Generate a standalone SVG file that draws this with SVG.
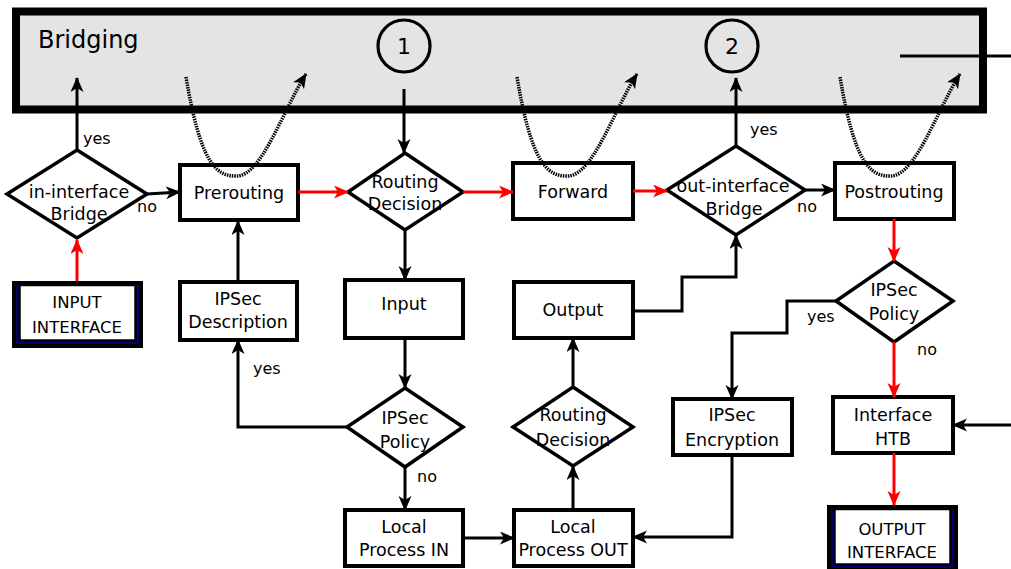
<svg xmlns="http://www.w3.org/2000/svg" width="1011" height="569" viewBox="0 0 1011 569">
<style>
text{font-family:"DejaVu Sans","Liberation Sans",sans-serif;fill:#000}
.lbl{font-size:17.5px;text-anchor:middle}
.sm{font-size:16px}
.box{fill:#fff;stroke:#000;stroke-width:4}
.dia{fill:#fff;stroke:#000;stroke-width:3.5;stroke-linejoin:miter}
.c{fill:none;stroke:#000;stroke-width:3}
.r{fill:none;stroke:#f00;stroke-width:3}
.dot{fill:none;stroke:#000;stroke-width:3.5;stroke-dasharray:1.5 1}
</style>
<defs>
<marker id="ab" markerUnits="userSpaceOnUse" markerWidth="16" markerHeight="14" refX="14" refY="6.5" orient="auto">
<path d="M0,0 L15,6.5 L0,13 L4,6.5 z" fill="#000"/>
</marker>
<marker id="ar" markerUnits="userSpaceOnUse" markerWidth="16" markerHeight="14" refX="14" refY="6.5" orient="auto">
<path d="M0,0 L15,6.5 L0,13 L4,6.5 z" fill="#f00"/>
</marker>
</defs>

<g id="bridging">
<rect x="16" y="11.5" width="967" height="98" fill="#e4e4e4" stroke="#000" stroke-width="8"/>
<text x="38" y="48" style="font-size:24px">Bridging</text>
</g>
<g id="circle1">
<circle cx="404" cy="46" r="26" fill="none" stroke="#000" stroke-width="3.2"/>
<text x="404" y="54" class="lbl" style="font-size:22px">1</text>
</g>
<g id="circle2">
<circle cx="732" cy="46" r="26" fill="none" stroke="#000" stroke-width="3.2"/>
<text x="732" y="54" class="lbl" style="font-size:22px">2</text>
</g>

<g id="input-interface">
<rect x="12" y="281" width="131" height="67" fill="#000"/>
<rect x="16" y="285" width="123" height="59" fill="#00006e"/>
<rect x="19.5" y="285" width="116" height="55.5" fill="#fff" stroke="#000" stroke-width="2.5"/>
<text x="77" y="308" class="lbl" style="font-size:16.5px">INPUT</text>
<text x="77" y="333" class="lbl" style="font-size:16.5px">INTERFACE</text>
</g>
<g id="in-interface-bridge">
<polygon points="77,150 147,194 77,238 7,194" class="dia"/>
<text x="79" y="198" class="lbl">in-interface</text>
<text x="79" y="220" class="lbl">Bridge</text>
</g>
<g id="prerouting">
<rect x="180" y="165" width="118" height="55" class="box"/>
<text x="239" y="199" class="lbl">Prerouting</text>
</g>
<g id="ipsec-description">
<rect x="180" y="282" width="117" height="58" class="box"/>
<text x="238" y="305" class="lbl">IPSec</text>
<text x="238" y="328" class="lbl">Description</text>
</g>
<g id="routing-decision-1">
<polygon points="405,153 463,192 405,230 348,192" class="dia"/>
<text x="405" y="188" class="lbl">Routing</text>
<text x="405" y="210" class="lbl">Decision</text>
</g>
<g id="input">
<rect x="345" y="280" width="118" height="58" class="box"/>
<text x="404" y="310" class="lbl">Input</text>
</g>
<g id="ipsec-policy-1">
<polygon points="405,388 463,427 405,467 347,427" class="dia"/>
<text x="405" y="424" class="lbl">IPSec</text>
<text x="405" y="448" class="lbl">Policy</text>
</g>
<g id="local-process-in">
<rect x="345" y="510" width="118" height="56" class="box"/>
<text x="404" y="533" class="lbl">Local</text>
<text x="404" y="556" class="lbl">Process IN</text>
</g>
<g id="forward">
<rect x="513" y="163" width="120" height="56" class="box"/>
<text x="573" y="198" class="lbl">Forward</text>
</g>
<g id="output">
<rect x="514" y="282" width="119" height="56" class="box"/>
<text x="573" y="316" class="lbl">Output</text>
</g>
<g id="routing-decision-2">
<polygon points="573,387 633,427 573,466 513,427" class="dia"/>
<text x="573" y="421" class="lbl">Routing</text>
<text x="573" y="446" class="lbl">Decision</text>
</g>
<g id="local-process-out">
<rect x="514" y="510" width="119" height="56" class="box"/>
<text x="573" y="533" class="lbl">Local</text>
<text x="573" y="556" class="lbl">Process OUT</text>
</g>
<g id="out-interface-bridge">
<polygon points="736,146 805,190 736,235 667,190" class="dia"/>
<text x="733" y="192" class="lbl">out-interface</text>
<text x="734" y="215" class="lbl">Bridge</text>
</g>
<g id="ipsec-encryption">
<rect x="673" y="399" width="119" height="56" class="box"/>
<text x="732" y="421" class="lbl">IPSec</text>
<text x="732" y="446" class="lbl">Encryption</text>
</g>
<g id="postrouting">
<rect x="835" y="163" width="119" height="56" class="box"/>
<text x="894" y="198" class="lbl">Postrouting</text>
</g>
<g id="ipsec-policy-2">
<polygon points="894,261 953,301 894,342 836,301" class="dia"/>
<text x="894" y="296" class="lbl">IPSec</text>
<text x="894" y="320" class="lbl">Policy</text>
</g>
<g id="interface-htb">
<rect x="833" y="397" width="120" height="56" class="box"/>
<text x="893" y="421" class="lbl">Interface</text>
<text x="893" y="445" class="lbl">HTB</text>
</g>
<g id="output-interface">
<rect x="827" y="505" width="131" height="67" fill="#000"/>
<rect x="831" y="509" width="123" height="59" fill="#00006e"/>
<rect x="834.5" y="509" width="116" height="55.5" fill="#fff" stroke="#000" stroke-width="2.5"/>
<text x="892" y="535" class="lbl" style="font-size:16.5px">OUTPUT</text>
<text x="892" y="558" class="lbl" style="font-size:16.5px">INTERFACE</text>
</g>

<g id="connectors">
<path d="M77,281 L77,240" class="r" marker-end="url(#ar)"/>
<path d="M77,150 L77,78" class="c" marker-end="url(#ab)"/>
<path d="M147,194 L180,192" class="c" marker-end="url(#ab)"/>
<path d="M238,282 L238,221" class="c" marker-end="url(#ab)"/>
<path d="M298,192 L348,192" class="r" marker-end="url(#ar)"/>
<path d="M404,89 L404,153" class="c" marker-end="url(#ab)"/>
<path d="M463,192 L513,192" class="r" marker-end="url(#ar)"/>
<path d="M405,230 L405,280" class="c" marker-end="url(#ab)"/>
<path d="M405,338 L405,388" class="c" marker-end="url(#ab)"/>
<path d="M347,427 L238,427 L238,340" class="c" marker-end="url(#ab)"/>
<path d="M405,467 L405,510" class="c" marker-end="url(#ab)"/>
<path d="M463,538 L514,538" class="c" marker-end="url(#ab)"/>
<path d="M573,510 L573,466" class="c" marker-end="url(#ab)"/>
<path d="M573,387 L573,338" class="c" marker-end="url(#ab)"/>
<path d="M633,311 L682,311 L682,277 L736,277 L736,235" class="c" marker-end="url(#ab)"/>
<path d="M633,191 L667,191" class="r" marker-end="url(#ar)"/>
<path d="M736,146 L736,78" class="c" marker-end="url(#ab)"/>
<path d="M805,190 L835,190" class="c" marker-end="url(#ab)"/>
<path d="M894,219 L894,261" class="r" marker-end="url(#ar)"/>
<path d="M836,301 L787,301 L787,333 L732,333 L732,399" class="c" marker-end="url(#ab)"/>
<path d="M894,342 L894,397" class="r" marker-end="url(#ar)"/>
<path d="M894,453 L894,505" class="r" marker-end="url(#ar)"/>
<path d="M1011,425 L953,425" class="c" marker-end="url(#ab)"/>
<path d="M732,455 L732,537 L633,537" class="c" marker-end="url(#ab)"/>
<path d="M900,56 L1011,56" class="c"/>
<path d="M186,77 C200,160 215,177 237,176 C262,175 282,112 306,74" class="dot" marker-end="url(#ab)"/>
<path d="M517,77 C531,160 546,177 568,176 C593,175 613,112 637,74" class="dot" marker-end="url(#ab)"/>
<path d="M840,77 C854,160 869,177 891,176 C916,175 936,112 960,74" class="dot" marker-end="url(#ab)"/>
<text x="83" y="144" class="sm">yes</text>
<text x="137" y="212" class="sm">no</text>
<text x="750" y="135" class="sm">yes</text>
<text x="797" y="212" class="sm">no</text>
<text x="807" y="322" class="sm">yes</text>
<text x="917" y="355" class="sm">no</text>
<text x="253" y="374" class="sm">yes</text>
<text x="417" y="482" class="sm">no</text>
</g>
</svg>
